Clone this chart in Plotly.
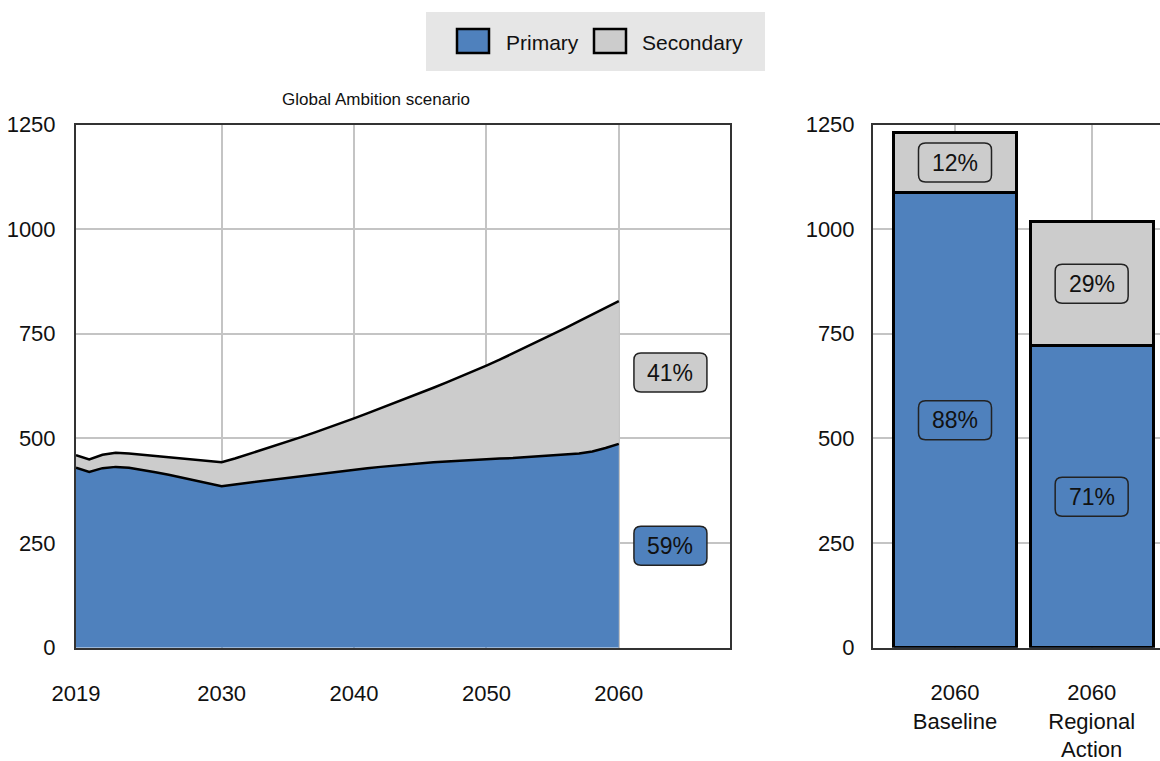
import plotly.graph_objects as go

# ---------------- data ----------------
years = list(range(2019, 2061))
primary = [430, 420, 429, 432, 430, 425, 419, 413, 406, 399, 392, 386,
           390, 394, 398, 402, 406, 410, 414, 418, 422, 426, 429, 432,
           435, 438, 441, 443, 445, 447, 449, 451, 452, 453, 455, 457,
           459, 461, 464, 469, 477, 487]
secondary = [30, 30, 32, 34, 34, 36, 39, 42, 46, 50, 54, 57,
             62, 68, 74, 80, 87, 93, 100, 107, 115, 122, 131, 140,
             149, 158, 167, 178, 189, 200, 211, 223, 236, 250, 263, 276,
             289, 303, 316, 327, 335, 341]

bar_categories = ["2060<br>Baseline", "2060<br>Regional<br>Action"]
bar_primary = [1087, 721]
bar_secondary = [144, 297]

x_ticks_left = [2019, 2030, 2040, 2050, 2060]
y_ticks = [0, 250, 500, 750, 1000, 1250]
series_names = ["Primary", "Secondary"]
panel_title = "Global Ambition scenario"

# ---------------- style ----------------
BLUE = "#4f81bd"
GREY = "#cccccc"
GRID = "#c4c4c4"
AXIS = "#333333"
FONT = "Liberation Sans, Arial, sans-serif"
TXT = "#111111"
FS = 22
W, H = 1160, 761

fig = go.Figure()

# left: stacked area
fig.add_trace(go.Scatter(x=years, y=primary, name=series_names[0], stackgroup="a",
                         mode="lines", line=dict(color="black", width=2.5),
                         fillcolor=BLUE, xaxis="x", yaxis="y", showlegend=False))
fig.add_trace(go.Scatter(x=years, y=secondary, name=series_names[1], stackgroup="a",
                         mode="lines", line=dict(color="black", width=2.5),
                         fillcolor=GREY, xaxis="x", yaxis="y", showlegend=False))

# right: stacked bars
bx = list(range(len(bar_categories)))
fig.add_trace(go.Bar(x=bx, y=bar_primary, name=series_names[0],
                     marker=dict(color=BLUE, line=dict(color="black", width=3)),
                     width=0.9, xaxis="x2", yaxis="y2", showlegend=False))
fig.add_trace(go.Bar(x=bx, y=bar_secondary, name=series_names[1],
                     marker=dict(color=GREY, line=dict(color="black", width=3)),
                     width=0.9, xaxis="x2", yaxis="y2", showlegend=False))


def rounded_box(xref, yref, x, y, fill, w=73, h=39, r=7):
    hw, hh = w / 2, h / 2
    p = (f"M {-hw + r},{-hh} L {hw - r},{-hh} Q {hw},{-hh} {hw},{-hh + r} "
         f"L {hw},{hh - r} Q {hw},{hh} {hw - r},{hh} L {-hw + r},{hh} "
         f"Q {-hw},{hh} {-hw},{hh - r} L {-hw},{-hh + r} Q {-hw},{-hh} {-hw + r},{-hh} Z")
    return dict(type="path", xref=xref, yref=yref, xsizemode="pixel", ysizemode="pixel",
                xanchor=x, yanchor=y, path=p, fillcolor=fill,
                line=dict(color="#222222", width=1.5), layer="above")


shapes = []
annotations = []

# left labels
tot = primary[-1] + secondary[-1]
lab_x = 2063.9
for val, ymid, col in [(secondary[-1], primary[-1] + secondary[-1] / 2, GREY),
                       (primary[-1], primary[-1] / 2, BLUE)]:
    shapes.append(rounded_box("x", "y", lab_x, ymid, col))
    annotations.append(dict(x=lab_x, y=ymid, xref="x", yref="y", text=f"{round(100 * val / tot)}%",
                            showarrow=False, font=dict(size=23, color=TXT, family=FONT)))

# bar labels
for i in bx:
    t = bar_primary[i] + bar_secondary[i]
    for val, ymid, col in [(bar_secondary[i], bar_primary[i] + bar_secondary[i] / 2, GREY),
                           (bar_primary[i], bar_primary[i] / 2, BLUE)]:
        shapes.append(rounded_box("x2", "y2", i, ymid, col))
        annotations.append(dict(x=i, y=ymid, xref="x2", yref="y2", text=f"{round(100 * val / t)}%",
                                showarrow=False, font=dict(size=23, color=TXT, family=FONT)))

# title
annotations.append(dict(x=376 / W, y=1 - 99 / H, xref="paper", yref="paper", text=panel_title,
                        showarrow=False, xanchor="center", yanchor="middle",
                        font=dict(size=17, color=TXT, family=FONT)))

# custom legend
shapes.append(dict(type="rect", xref="paper", yref="paper", x0=426 / W, x1=765 / W,
                   y0=1 - 71 / H, y1=1 - 12 / H, fillcolor="#e6e6e6", line=dict(width=0), layer="below"))
for (x0, x1, col, tx, name) in [(457, 489, BLUE, 504, series_names[0]),
                                (594, 626, GREY, 640, series_names[1])]:
    shapes.append(dict(type="rect", xref="paper", yref="paper", x0=x0 / W, x1=x1 / W,
                       y0=1 - 53 / H, y1=1 - 29 / H, fillcolor=col, line=dict(color="black", width=2.5)))
    annotations.append(dict(x=tx / W, y=1 - 42 / H, xref="paper", yref="paper", text=name,
                            showarrow=False, xanchor="left", yanchor="middle",
                            font=dict(size=21, color=TXT, family=FONT)))

ydom = [1 - 647.7 / H, 1 - 124.5 / H]
common_y = dict(range=[0, 1250], tickvals=y_ticks, showgrid=True, gridcolor=GRID, gridwidth=2,
                zeroline=False, showline=True, linecolor=AXIS, linewidth=2, ticks="",
                automargin=False, tickfont=dict(size=FS, color=TXT, family=FONT), domain=ydom)
common_x = dict(showgrid=True, gridcolor=GRID, gridwidth=2, zeroline=False,
                showline=True, mirror=True, linecolor=AXIS, linewidth=2, ticks="",
                automargin=False, tickfont=dict(size=FS, color=TXT, family=FONT))

fig.update_layout(
    width=W, height=H, margin=dict(l=0, r=0, t=0, b=0, autoexpand=False),
    paper_bgcolor="white", plot_bgcolor="white",
    font=dict(family=FONT, color=TXT),
    barmode="stack", showlegend=False,
    xaxis=dict(**common_x, domain=[76 / W, 730 / W], range=[2019, 2068.4], tickvals=x_ticks_left,
               ticklabelstandoff=25),
    yaxis=dict(**common_y, mirror=True, ticklabelstandoff=14),
    xaxis2=dict(**common_x, domain=[873 / W, 1], range=[-0.6, 1.5], tickvals=bx, ticktext=bar_categories,
                ticklabelstandoff=24),
    yaxis2=dict(**common_y, anchor="x2", ticklabelstandoff=12),
    shapes=shapes, annotations=annotations,
)

fig.write_html("out.html", config={"displayModeBar": False},
               post_script="document.body.style.margin='0';document.body.style.overflow='hidden';")
